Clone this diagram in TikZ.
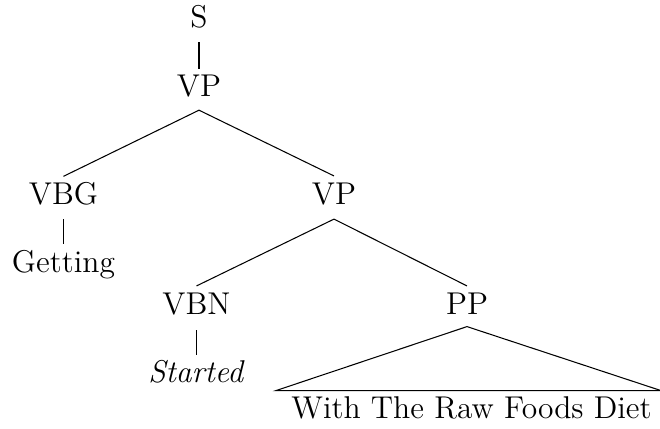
\documentclass[tikz,border=0pt]{standalone}
\begin{document}
\begin{tikzpicture}[x=0.381pt,y=-0.381pt,
  every node/.style={font=\fontsize{12}{14.4}\selectfont},
  lbl/.style={inner sep=0pt, anchor=base},
  branch/.style={line width=0.4pt},
  roofline/.style={line width=0.4pt}]
\useasboundingbox (0,0) rectangle (660,428);

% categories and words
\node[lbl] (s)       at (199,27)    {S};
\node[lbl] (vpa)     at (199,96)    {VP};
\node[lbl] (vbg)     at (63.5,204)  {VBG};
\node[lbl] (vpb)     at (334,204)   {VP};
\node[lbl] (getting) at (63.5,272)  {Getting};
\node[lbl] (vbn)     at (196.5,314) {VBN};
\node[lbl] (pp)      at (467,314)   {PP};
\node[lbl] (started) at (196.5,382) {\textit{Started}};
\node[lbl] (phrase)  at (471.5,418) {With The Raw Foods Diet};

% branches: from below the parent to just above the child
\draw[branch] ([yshift=-5.3pt]s.south)   -- ([yshift=1.9pt]vpa.north);
\draw[branch] ([yshift=-4.95pt]vpa.south) -- ([yshift=1.9pt]vbg.north);
\draw[branch] ([yshift=-4.95pt]vpa.south) -- ([yshift=2.3pt]vpb.north);
\draw[branch] ([yshift=-5.3pt]vbg.south) -- ([yshift=1.9pt]getting.north);
\draw[branch] ([yshift=-5.3pt]vpb.south) -- ([yshift=2.3pt]vbn.north);
\draw[branch] ([yshift=-5.3pt]vpb.south) -- ([yshift=2.3pt]pp.north);
\draw[branch] ([yshift=-5.7pt]vbn.south) -- ([yshift=1.5pt]started.north);

% roof over the unanalysed phrase
\draw[roofline] ([yshift=-4.6pt]pp.south)
  -- ([xshift=-5.7pt,yshift=1.9pt]phrase.north west)
  -- ([xshift=3.4pt,yshift=1.9pt]phrase.north east)
  -- cycle;
\end{tikzpicture}
\end{document}
